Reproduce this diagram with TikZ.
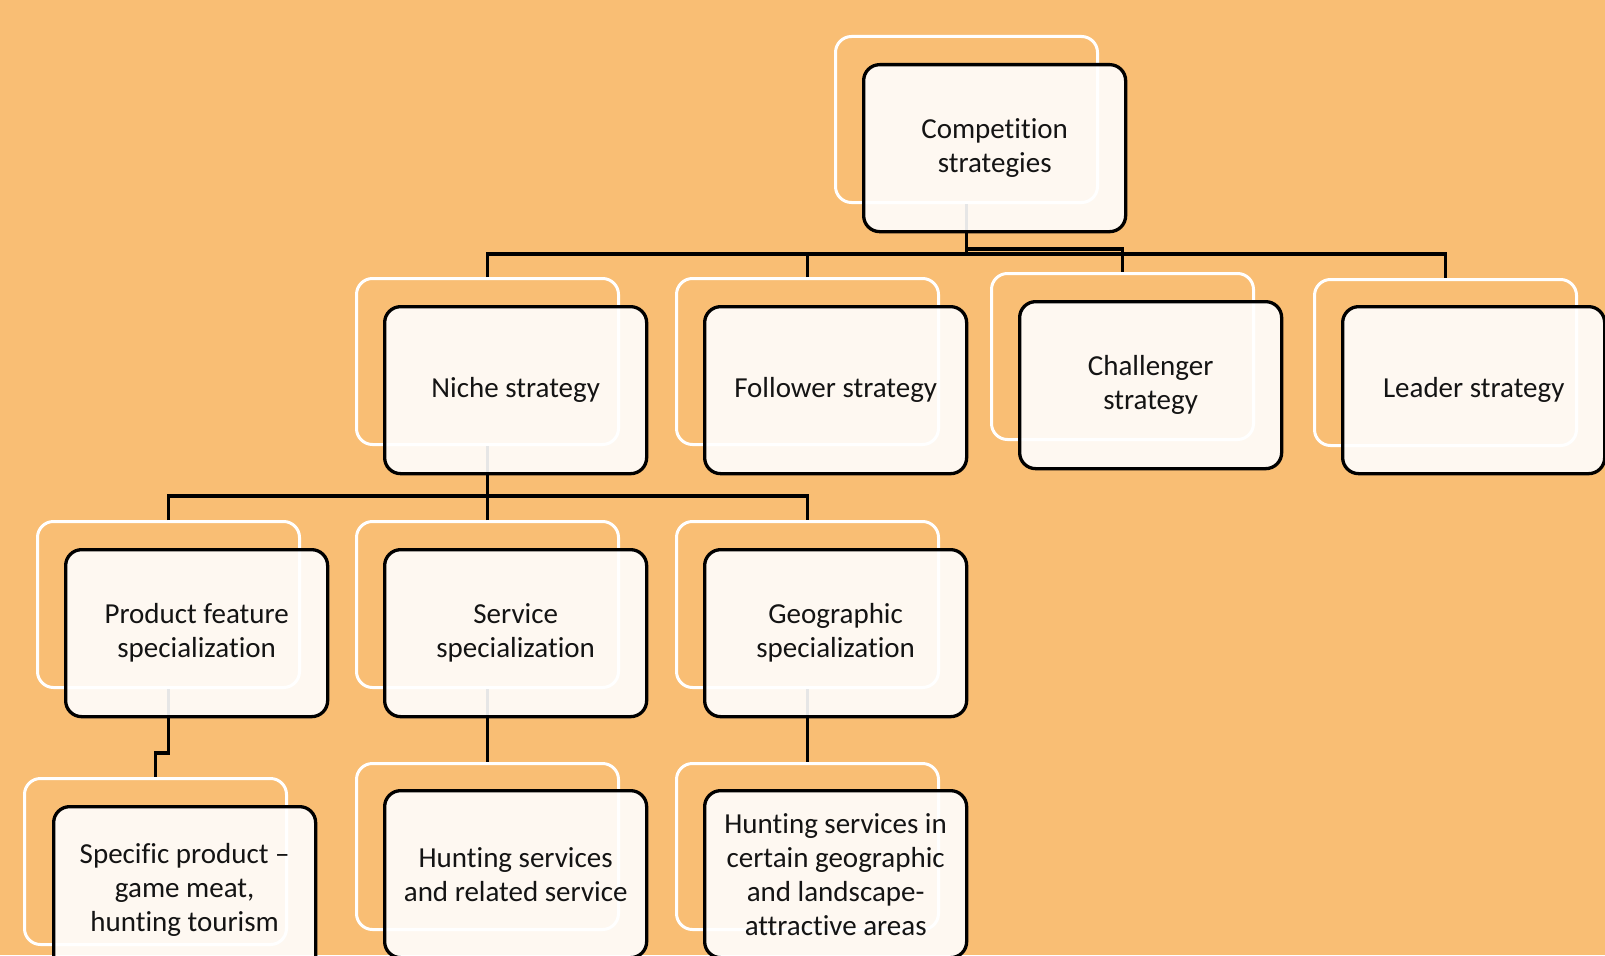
\documentclass[tikz,border=0pt]{standalone}
\usepackage{fontspec}
\setmainfont{Carlito}[Ligatures=NoCommon]
\definecolor{bgorange}{RGB}{249,190,116}
\definecolor{txt}{RGB}{20,20,20}
\tikzset{
  x=1pt, y=-1pt,
  backbox/.style={draw=white, line width=3pt, rounded corners=16pt, minimum width=262pt, minimum height=166pt, anchor=north west, inner sep=0pt},
  frontbox/.style={draw=black, line width=3.3pt, rounded corners=16pt, fill=white, fill opacity=0.9, text opacity=1, text=txt, minimum width=262pt, minimum height=167pt, anchor=north west, inner sep=0pt, align=center, font=\fontsize{29}{34}\selectfont},
  conn/.style={draw=black, line width=3.3pt}
}
\begin{document}
\begin{tikzpicture}
\fill[bgorange] (0,0) rectangle (1605,955);
\useasboundingbox (0,0) rectangle (1605,955);
% back (white outline) boxes
\node[backbox] (compW) at (834,35) {};
\node[backbox] (nicheW) at (355,277) {};
\node[backbox] (followW) at (675,277) {};
\node[backbox] (challW) at (990,272) {};
\node[backbox] (leaderW) at (1313,278) {};
\node[backbox] (prodW) at (36,520) {};
\node[backbox] (servW) at (355,520) {};
\node[backbox] (geoW) at (675,520) {};
\node[backbox] (specW) at (23,777) {};
\node[backbox] (huntW) at (355,762) {};
\node[backbox] (hgeoW) at (675,762) {};
% connectors
\coordinate (b1) at (0,254);
\coordinate (b1c) at (0,249);
\coordinate (b2) at (0,496);
\coordinate (j1) at (0,753);
\draw[conn] (compW.south) -- (compW.south |- b1);
\draw[conn] (nicheW.north) -- (nicheW.north |- b1) -- (leaderW.north |- b1) -- (leaderW.north);
\draw[conn] (followW.north) -- (followW.north |- b1);
\draw[conn] (compW.south |- b1) -- (compW.south |- b1c) -- (challW.north |- b1c) -- (challW.north);
\draw[conn] (nicheW.south) -- (nicheW.south |- b2);
\draw[conn] (prodW.north) -- (prodW.north |- b2) -- (geoW.north |- b2) -- (geoW.north);
\draw[conn] (servW.north) -- (servW.north |- b2);
\draw[conn] (prodW.south) -- (prodW.south |- j1) -- (specW.north |- j1) -- (specW.north);
\draw[conn] (servW.south) -- (huntW.north);
\draw[conn] (geoW.south) -- (hgeoW.north);
% front boxes
\node[frontbox] (comp) at (862,63) {Competition\\strategies};
\node[frontbox] (niche) at (383,305) {Niche strategy};
\node[frontbox] (follow) at (703,305) {Follower strategy};
\node[frontbox] (chall) at (1018,300) {Challenger\\strategy};
\node[frontbox] (leader) at (1341,305) {Leader strategy};
\node[frontbox] (prod) at (64,548) {Product feature\\specialization};
\node[frontbox] (serv) at (383,548) {Service\\specialization};
\node[frontbox] (geo) at (703,548) {Geographic\\specialization};
\node[frontbox] (spec) at (52,805) {Specific product --\\game meat,\\hunting tourism};
\node[frontbox] (hunt) at (383,789) {Hunting services\\and related service};
\node[frontbox] (hgeo) at (703,789) {Hunting services in\\certain geographic\\and landscape-\\attractive areas};
\end{tikzpicture}
\end{document}
